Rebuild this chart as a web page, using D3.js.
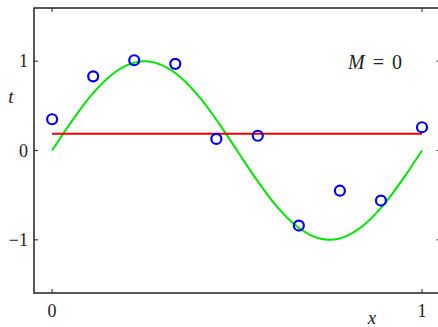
<!DOCTYPE html>
<html>
<head>
<meta charset="utf-8">
<script src="https://cdn.jsdelivr.net/npm/d3@7"></script>
<style>
  body { margin: 0; background: #fff; }
</style>
</head>
<body>
<div id="chart"></div>
<script>
// observed points
var xData = [0, 0.111, 0.222, 0.333, 0.444, 0.556, 0.667, 0.778, 0.889, 1];
var tData = [0.35, 0.83, 1.01, 0.97, 0.13, 0.165, -0.84, -0.45, -0.56, 0.26];
// green curve
var curveX = [0, 0.05, 0.1, 0.15, 0.2, 0.25, 0.3, 0.35, 0.4, 0.45, 0.5,
              0.55, 0.6, 0.65, 0.7, 0.75, 0.8, 0.85, 0.9, 0.95, 1];
var curveT = [0, 0.31, 0.59, 0.81, 0.95, 1, 0.95, 0.81, 0.59, 0.31, 0,
              -0.31, -0.59, -0.81, -0.95, -1, -0.95, -0.81, -0.59, -0.31, 0];
// fitted M = 0 line
var fitX = [0, 1];
var fitT = [0.187, 0.187];
var xTicks = [0, 1];
var yTicks = [-1, 0, 1];

var width = 438, height = 327;
var serif = "'Liberation Serif', 'DejaVu Serif', serif";
var x = d3.scaleLinear().domain([-0.049, 1.05]).range([34, 440.5]);
var y = d3.scaleLinear().domain([-1.595, 1.595]).range([293, 8]);

var svg = d3.select("#chart").append("svg")
    .attr("width", width)
    .attr("height", height)
    .attr("font-family", serif);

function label(px, py, s, italic, size) {
    return svg.append("text").attr("x", px).attr("y", py)
        .attr("font-family", serif)
        .attr("font-size", size || 18)
        .attr("fill", "#222")
        .attr("font-style", italic ? "italic" : "normal")
        .text(s);
}

// frame
svg.append("rect")
    .attr("x", x.range()[0])
    .attr("y", y.range()[1])
    .attr("width", x.range()[1] - x.range()[0])
    .attr("height", y.range()[0] - y.range()[1])
    .attr("fill", "none")
    .attr("stroke", "#222")
    .attr("stroke-width", 1.5);

// inward ticks
var tl = 4;
xTicks.forEach(function (v) {
    svg.append("line").attr("x1", x(v)).attr("x2", x(v))
        .attr("y1", y.range()[0]).attr("y2", y.range()[0] - tl)
        .attr("stroke", "#222");
    svg.append("line").attr("x1", x(v)).attr("x2", x(v))
        .attr("y1", y.range()[1]).attr("y2", y.range()[1] + tl)
        .attr("stroke", "#222");
    label(x(v), 317, v).attr("text-anchor", "middle");
});
yTicks.forEach(function (v) {
    svg.append("line").attr("x1", x.range()[0]).attr("x2", x.range()[0] + tl)
        .attr("y1", y(v)).attr("y2", y(v))
        .attr("stroke", "#222");
    svg.append("line").attr("x1", x.range()[1]).attr("x2", x.range()[1] - tl)
        .attr("y1", y(v)).attr("y2", y(v))
        .attr("stroke", "#222");
    label(28, y(v), v < 0 ? "\u2212" + Math.abs(v) : v)
        .attr("dy", "0.35em")
        .attr("text-anchor", "end");
});

// axis labels
label(11, 103, "t", true, 19).attr("text-anchor", "middle");
label(372, 324, "x", true, 19).attr("text-anchor", "middle");
var m = label(348, 69, "", false, 20);
m.append("tspan").attr("font-style", "italic").text("M");
m.append("tspan").attr("dx", 8).text("=");
m.append("tspan").attr("dx", 8).text("0");

// green curve
var line = d3.line()
    .x(function (d) { return x(d[0]); })
    .y(function (d) { return y(d[1]); })
    .curve(d3.curveCardinal);
svg.append("path")
    .datum(d3.zip(curveX, curveT))
    .attr("d", line)
    .attr("fill", "none")
    .attr("stroke", "#00e400")
    .attr("stroke-width", 2);

// red fit
svg.append("path")
    .datum(d3.zip(fitX, fitT))
    .attr("d", d3.line().x(function (d) { return x(d[0]); }).y(function (d) { return y(d[1]); }))
    .attr("fill", "none")
    .attr("stroke", "#f00000")
    .attr("stroke-width", 2);

// data points
svg.selectAll(".dot")
    .data(d3.zip(xData, tData))
    .enter().append("circle")
    .attr("class", "dot")
    .attr("cx", function (d) { return x(d[0]); })
    .attr("cy", function (d) { return y(d[1]); })
    .attr("r", 5)
    .attr("fill", "none")
    .attr("stroke", "#0000f0")
    .attr("stroke-width", 2.2);
</script>
</body>
</html>
